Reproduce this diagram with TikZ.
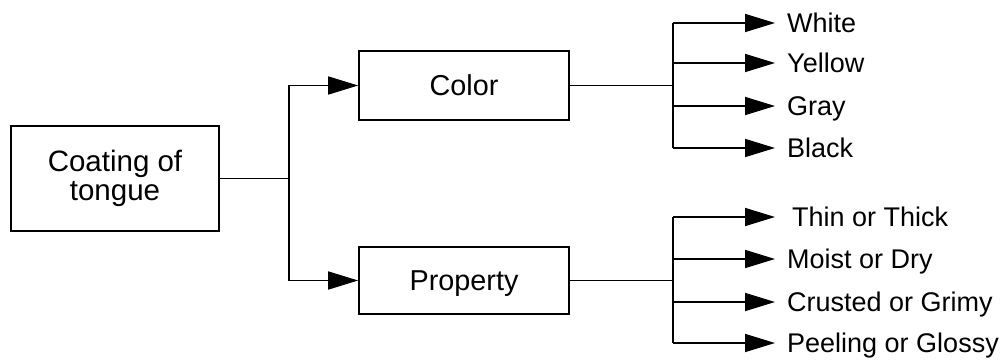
\documentclass[tikz,border=0pt]{standalone}
\usepackage{fontspec}
\setmainfont{Liberation Sans}
\usetikzlibrary{arrows.meta}
\begin{document}
\begin{tikzpicture}[x=1pt,y=-1pt,
  every node/.style={font=\fontsize{27}{29.5}\selectfont},
  boxnode/.style={draw, line width=1.7pt, minimum width=#1, inner sep=0pt},
  leaf/.style={anchor=west, inner xsep=12pt, inner ysep=0pt, text height=19.3pt, text depth=0pt},
  conn/.style={line width=1.7pt},
  arr/.style={conn, -{Triangle[length=30pt,width=18pt]}}]
\useasboundingbox (0,0) rectangle (1004,359);
\node[boxnode=208pt, minimum height=105pt, align=center, font=\fontsize{29.5}{29}\selectfont] (coat) at (115,178.5) {Coating of\\tongue};
\node[boxnode=210pt, minimum height=69pt, text height=19.3pt, text depth=0pt, font=\fontsize{28.8}{29.5}\selectfont] (color) at (464,85.5) {Color};
\node[boxnode=210pt, minimum height=67pt, text height=19.3pt, text depth=0pt, font=\fontsize{28.8}{29.5}\selectfont] (prop) at (464,280.5) {Property};
\coordinate (j0) at (289,178.5);
\coordinate (j1) at (673,85.5);
\coordinate (j2) at (673,280.5);
\draw[conn] (coat.east) -- (j0);
\draw[arr] (j0) |- (color.west);
\draw[arr] (j0) |- (prop.west);
\draw[conn] (color.east) -- (j1);
\draw[conn] (prop.east) -- (j2);
\node[leaf] (w) at (775,23) {White};
\node[leaf] (ye) at (775,63) {Yellow};
\node[leaf] (g) at (775,106) {Gray};
\node[leaf] (b) at (775,148) {Black};
\node[leaf, inner xsep=17pt] (t) at (775,217) {Thin or Thick};
\node[leaf] (m) at (775,259) {Moist or Dry};
\node[leaf] (c) at (775,302) {Crusted or Grimy};
\node[leaf] (p) at (775,343) {Peeling or Glossy};
\foreach \n in {w,ye,g,b} \draw[arr] (j1 |- \n.west) -- (\n.west);
\foreach \n in {t,m,c,p} \draw[arr] (j2 |- \n.west) -- (\n.west);
\draw[conn] (j1 |- w.west) -- (j1 |- b.west);
\draw[conn] (j2 |- t.west) -- (j2 |- p.west);
\end{tikzpicture}
\end{document}
